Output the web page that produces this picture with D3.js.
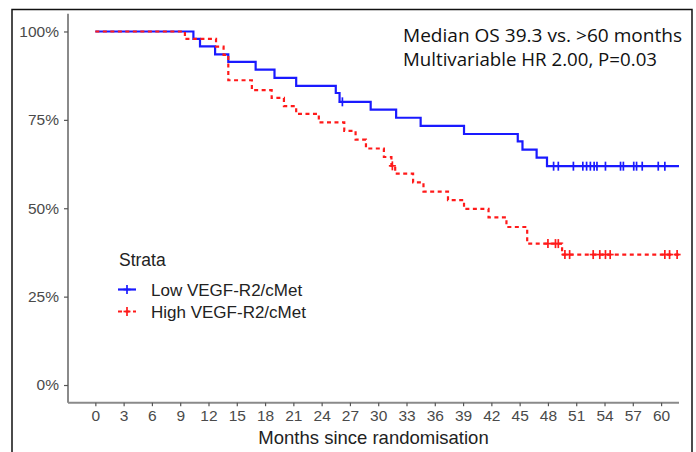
<!DOCTYPE html>
<html>
<head>
<meta charset="utf-8">
<script src="https://cdn.jsdelivr.net/npm/d3@7"></script>
<style>
  html, body { margin: 0; padding: 0; background: #fff; }
  svg { display: block; }
</style>
</head>
<body>
<svg id="chart" width="696" height="452"></svg>
<script>
// ---------------- data ----------------
const strataNames = ["Low VEGF-R2/cMet", "High VEGF-R2/cMet"];
const lowTimes = [0, 10.4, 11.1, 12.7, 14.1, 17.0, 19.0, 21.3, 25.5, 25.9, 29.2, 31.9, 34.5, 39.1, 44.8, 45.3, 46.8, 47.9];
const lowSurv  = [1, 0.979, 0.958, 0.935, 0.914, 0.892, 0.869, 0.846, 0.826, 0.801, 0.779, 0.756, 0.733, 0.710, 0.689, 0.666, 0.643, 0.619];
const lowCensor = [26.2, 48.6, 49.1, 50.7, 51.7, 52.1, 52.5, 52.9, 53.2, 54.1, 55.7, 56.0, 57.1, 57.4, 58.0, 59.7, 60.4];
const highTimes = [0, 9.5, 12.8, 13.6, 14.1, 16.6, 18.7, 20.0, 21.3, 23.7, 26.4, 27.6, 28.7, 30.6, 31.4, 31.8, 33.7, 34.8, 37.4, 39.1, 41.7, 43.6, 45.8, 49.5];
const highSurv  = [1, 0.979, 0.957, 0.934, 0.862, 0.834, 0.812, 0.789, 0.767, 0.743, 0.719, 0.694, 0.669, 0.645, 0.620, 0.598, 0.573, 0.547, 0.523, 0.498, 0.474, 0.447, 0.400, 0.369];
const highCensor = [31.5, 48.0, 48.8, 49.1, 49.8, 50.3, 52.8, 53.5, 54.1, 54.6, 60.4, 60.9, 61.7];
const maxFollowUp = 61.9;
const xTicks = [0, 3, 6, 9, 12, 15, 18, 21, 24, 27, 30, 33, 36, 39, 42, 45, 48, 51, 54, 57, 60];
const yTicks = [0, 0.25, 0.5, 0.75, 1];
const yTickLabels = ["0%", "25%", "50%", "75%", "100%"];
const annotation = ["Median OS 39.3 vs. >60 months", "Multivariable HR 2.00, P=0.03"];
const legendTitle = "Strata";
const xTitle = "Months since randomisation";

// ---------------- layout ----------------
const svg = d3.select("#chart");
const colors = ["#1a1aff", "#ff1a1a"];
const panel = {left: 68, right: 679, top: 13.8, bottom: 402.7};

const x = d3.scaleLinear().domain([-2.9, 61.9]).range([panel.left, panel.right]);
const y = d3.scaleLinear().domain([-0.05, 1.05]).range([panel.bottom, panel.top]);

// outer frame
svg.append("rect").attr("x", 12).attr("y", 9.5).attr("width", 680).attr("height", 470)
  .attr("fill", "none").attr("stroke", "#111").attr("stroke-width", 1.5);

const fontFam = "'Liberation Sans', Arial, sans-serif";

// axes
const yAxis = d3.axisLeft(y).tickValues(yTicks).tickFormat((d, i) => yTickLabels[i])
  .tickSizeInner(4).tickSizeOuter(0).tickPadding(5);
const gy = svg.append("g").attr("transform", `translate(${panel.left},0)`).call(yAxis);
const xAxis = d3.axisBottom(x).tickValues(xTicks).tickFormat(d3.format("d"))
  .tickSizeInner(3.5).tickSizeOuter(0).tickPadding(4);
const gx = svg.append("g").attr("transform", `translate(0,${panel.bottom})`).call(xAxis);

[gx, gy].forEach(g => {
  g.select(".domain").attr("stroke", "#8a8a8a").attr("stroke-width", 2);
  g.selectAll(".tick line").attr("stroke", "#555").attr("stroke-width", 1.2);
  g.selectAll(".tick text").attr("fill", "#4a4a4a").attr("font-family", fontFam)
    .attr("font-size", "15.5px");
});
gy.select(".domain").attr("d", `M0,${panel.top}V${panel.bottom}`);
gx.select(".domain").attr("d", `M${panel.left},0H${panel.right}`);

svg.append("text").attr("x", (panel.left + panel.right) / 2).attr("y", 444)
  .attr("text-anchor", "middle").attr("font-family", fontFam).attr("font-size", "18.5px")
  .attr("fill", "#222").text(xTitle);

// curves
function stepPoints(times, surv) {
  const pts = times.map((t, i) => [t, surv[i]]);
  pts.push([maxFollowUp, surv[surv.length - 1]]);
  return pts;
}
function survAt(times, surv, t) {
  let s = surv[0];
  for (let i = 0; i < times.length; i++) if (times[i] <= t) s = surv[i];
  return s;
}
const line = d3.line().x(d => x(d[0])).y(d => y(d[1])).curve(d3.curveStepAfter);

const series = [
  {times: lowTimes, surv: lowSurv, censor: lowCensor, color: colors[0], dash: null},
  {times: highTimes, surv: highSurv, censor: highCensor, color: colors[1], dash: "4 3.5"}
];

function cross(g, cx, cy, color, hw, hh) {
  g.append("line").attr("x1", cx - hw).attr("x2", cx + hw).attr("y1", cy).attr("y2", cy)
    .attr("stroke", color).attr("stroke-width", 1.7);
  g.append("line").attr("x1", cx).attr("x2", cx).attr("y1", cy - hh).attr("y2", cy + hh)
    .attr("stroke", color).attr("stroke-width", 1.7);
}

series.forEach(s => {
  svg.append("path").datum(stepPoints(s.times, s.surv)).attr("d", line)
    .attr("fill", "none").attr("stroke", s.color).attr("stroke-width", 2.2)
    .attr("stroke-dasharray", s.dash);
  const g = svg.append("g");
  s.censor.forEach(t => cross(g, x(t), y(survAt(s.times, s.surv, t)), s.color, 3.5, 4.5));
});

// legend
svg.append("text").attr("x", 119).attr("y", 266).attr("font-family", fontFam)
  .attr("font-size", "17.5px").attr("fill", "#222").text(legendTitle);
series.forEach((s, i) => {
  const cy = 289.5 + i * 22;
  svg.append("line").attr("x1", 118).attr("x2", 136).attr("y1", cy).attr("y2", cy)
    .attr("stroke", s.color).attr("stroke-width", 2.2).attr("stroke-dasharray", s.dash);
  cross(svg, 127, cy, s.color, 3.5, 4.5);
  svg.append("text").attr("x", 151).attr("y", cy + 6.5).attr("font-family", fontFam)
    .attr("font-size", "17px").attr("fill", "#222").text(strataNames[i]);
});

// annotation
annotation.forEach((t, i) => {
  svg.append("text").attr("x", 403).attr("y", 41.5 + i * 24).attr("font-family", "'Open Sans', sans-serif")
    .attr("font-size", "17.5px").attr("fill", "#111")
    .attr("textLength", i === 0 ? 279 : 254).attr("lengthAdjust", "spacingAndGlyphs").text(t);
});
</script>
</body>
</html>
